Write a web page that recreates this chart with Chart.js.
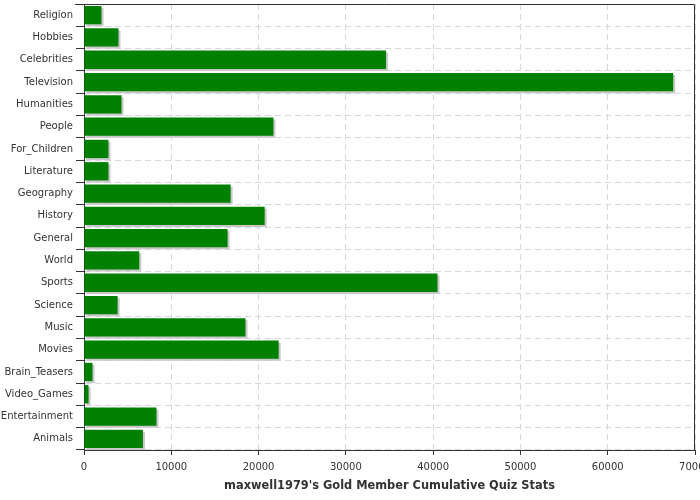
<!DOCTYPE html>
<html>
<head>
<meta charset="utf-8">
<script src="https://cdn.jsdelivr.net/npm/chart.js@4/dist/chart.umd.min.js"></script>
<style>
  html, body { margin: 0; padding: 0; background: #fff; }
  #wrap { width: 700px; height: 500px; }
</style>
</head>
<body>
<div id="wrap"><canvas id="chart1"></canvas></div>
<script>
// categories, top to bottom
const categories = ["Religion", "Hobbies", "Celebrities", "Television", "Humanities", "People",
  "For_Children", "Literature", "Geography", "History", "General", "World", "Sports", "Science",
  "Music", "Movies", "Brain_Teasers", "Video_Games", "Entertainment", "Animals"];

// cumulative points per category
const points = [2000, 3950, 34600, 67500, 4300, 21700, 2800, 2800, 16800, 20700, 16450, 6330,
  40500, 3850, 18500, 22300, 970, 520, 8300, 6750];

const xMin = 0;
const xMax = 70000;
const xStep = 10000;
const titleText = "maxwell1979's Gold Member Cumulative Quiz Stats";

// little grey drop shadow under every bar
const barShadow = {
  id: "barShadow",
  beforeDatasetsDraw(chart) {
    const c = chart.ctx;
    c.save();
    c.shadowColor = "#c8c8c8";
    c.shadowOffsetX = 2;
    c.shadowOffsetY = 2;
    c.shadowBlur = 0;
  },
  afterDatasetsDraw(chart) {
    chart.ctx.restore();
  }
};

// dark frame on the top and right side of the plot
const frame = {
  id: "frame",
  afterDraw(chart) {
    const a = chart.chartArea;
    const c = chart.ctx;
    c.save();
    c.strokeStyle = "#333";
    c.lineWidth = 1;
    c.beginPath();
    c.moveTo(a.left - 9, a.top + 0.5);
    c.lineTo(a.right - 0.5, a.top + 0.5);
    c.lineTo(a.right - 0.5, a.bottom);
    c.stroke();
    c.restore();
  }
};

const ctx = document.getElementById("chart1").getContext("2d");
const chart = new Chart(ctx, {
  type: "bar",
  data: {
    labels: categories,
    datasets: [
      {
        label: "Points",
        data: points,
        backgroundColor: "#008000",
        borderWidth: 0,
        barPercentage: 0.82,
        categoryPercentage: 1
      }
    ]
  },
  options: {
    indexAxis: "y",
    responsive: true,
    maintainAspectRatio: false,
    animation: false,
    layout: { padding: { left: 0, top: 4, right: 5, bottom: 0 } },
    plugins: {
      legend: { display: false },
      tooltip: { enabled: false }
    },
    scales: {
      x: {
        min: xMin,
        max: xMax,
        afterFit: function (scale) {
          scale.height = 50;
          scale.paddingLeft = 0;
          scale.paddingRight = 0;
        },
        ticks: {
          stepSize: xStep,
          color: "#333",
          padding: 6,
          maxRotation: 0,
          font: { family: "DejaVu Sans", size: 10 },
          callback: function (v) { return String(v); }
        },
        grid: { color: "#d3d9dd", tickColor: "#333", tickLength: 5, tickBorderDash: [] },
        border: { color: "#333", width: 1, dash: [6, 4] },
        title: {
          display: true,
          text: titleText,
          color: "#333",
          font: { family: "DejaVu Sans", size: 11.4, weight: "bold" },
          padding: { top: 4, bottom: 7 }
        }
      },
      y: {
        afterFit: function (scale) {
          scale.width = 84;
          scale.paddingTop = 0;
          scale.paddingBottom = 0;
        },
        ticks: {
          color: "#333",
          padding: 3,
          font: { family: "DejaVu Sans", size: 10 }
        },
        grid: { color: "#d3d9dd", tickColor: "#333", tickLength: 8, tickBorderDash: [], offset: true },
        border: { color: "#333", width: 1, dash: [6, 4] }
      }
    }
  },
  plugins: [barShadow, frame]
});
</script>
</body>
</html>
